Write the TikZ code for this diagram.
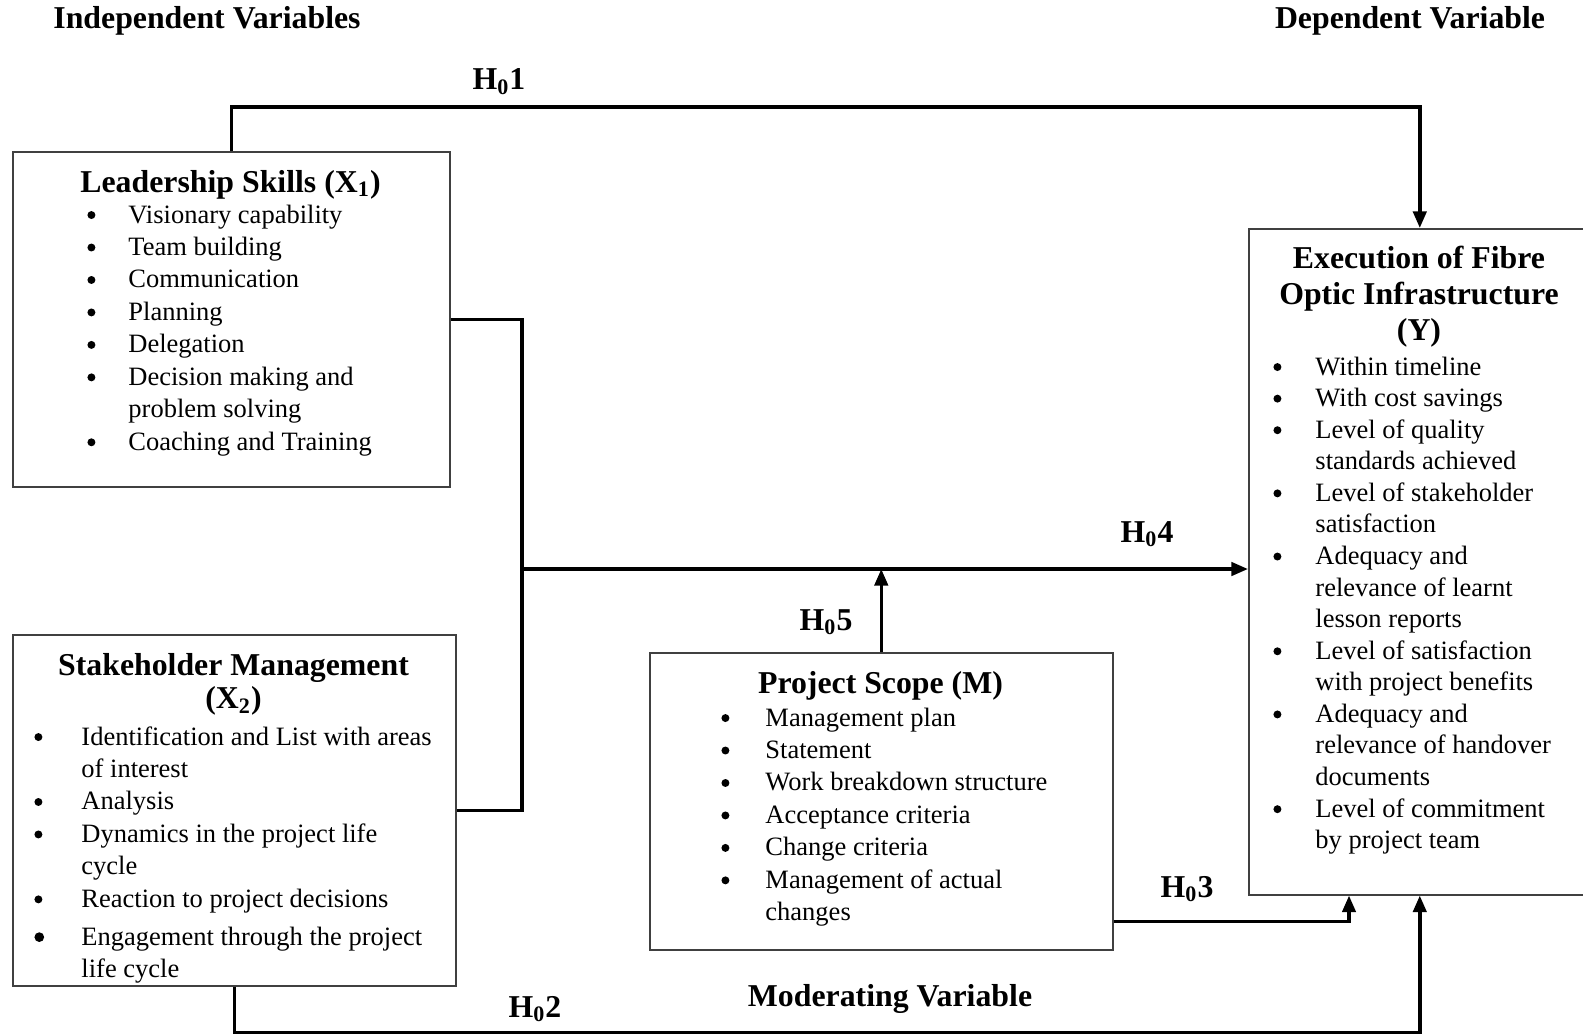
\documentclass[tikz,border=0pt]{standalone}
\usepackage{fontspec}
\setmainfont{Liberation Serif}
\usetikzlibrary{arrows.meta,positioning}
\newlength{\px}
\setlength{\px}{0.4528pt}
\newcommand{\bul}{\raisebox{1.8pt}{\tikz\fill (0,0) circle (1.8pt);}}
\newcommand{\bigbul}{\raisebox{1.5pt}{\tikz\fill (0,0) circle (2.2pt);}}
\begin{document}
\begin{tikzpicture}[x=\px, y=-\px,
  varbox/.style={draw=black!75, line width=0.7pt, anchor=north west, inner sep=0pt},
  boxtitle/.style={anchor=base, inner sep=0pt, font=\fontsize{14.4}{15.8}\selectfont\bfseries},
  itemlist/.style={anchor=base west, inner sep=0pt, font=\fontsize{12}{14.7}\selectfont},
  hlabel/.style={anchor=base, inner sep=0pt, font=\fontsize{14.4}{16}\selectfont\bfseries},
  link/.style={line width=1.6pt},
  arrow/.style={link, -{Triangle[length=7.5pt,width=6pt]}}]
\useasboundingbox (0,0) rectangle (1583,1034);

% the four boxes
\node[varbox, minimum width=437*\px, minimum height=335*\px] (lead) at (12,151) {};
\node[varbox, minimum width=443*\px, minimum height=351*\px] (stake) at (12,634) {};
\node[varbox, minimum width=463*\px, minimum height=297*\px] (scope) at (649,652) {};
\node[varbox, minimum width=342*\px, minimum height=666*\px] (exec) at (1248,228) {};

% titles
\node[boxtitle] (lead-t) at (230.5,192) {Leadership Skills (X\textsubscript{1})};
\node[boxtitle, font=\fontsize{14.4}{15.1}\selectfont\bfseries] (stake-t) at (233.5,675)
  {\begin{tabular}[t]{@{}c@{}}Stakeholder Management\\(X\textsubscript{2})\end{tabular}};
\node[boxtitle] (scope-t) at (880.5,693) {Project Scope (M)};
\node[boxtitle, font=\fontsize{14.4}{16.4}\selectfont\bfseries] (exec-t) at (1419,268)
  {\begin{tabular}[t]{@{}c@{}}Execution of Fibre\\Optic Infrastructure\\(Y)\end{tabular}};

% lists
\node[itemlist] (lead-l) at (87,223) {\begin{tabular}[t]{@{}p{41\px}@{}l@{}}
\bul & Visionary capability\\
\bul & Team building\\
\bul & Communication\\
\bul & Planning\\
\bul & Delegation\\
\bul & Decision making and\\
     & problem solving\\
\bul & Coaching and Training
\end{tabular}};
\node[itemlist] (stake-l) at (34,745) {\begin{tabular}[t]{@{}p{47\px}@{}l@{}}
\bul & Identification and List with areas\\
     & of interest\\
\bul & Analysis\\
\bul & Dynamics in the project life\\
     & cycle\\
\bul & Reaction to project decisions\\[2.5pt]
\bigbul & Engagement through the project\\
     & life cycle
\end{tabular}};
\node[itemlist] (scope-l) at (721,726) {\begin{tabular}[t]{@{}p{44\px}@{}l@{}}
\bul & Management plan\\
\bul & Statement\\
\bul & Work breakdown structure\\
\bul & Acceptance criteria\\
\bul & Change criteria\\
\bul & Management of actual\\
     & changes
\end{tabular}};
\node[itemlist, font=\fontsize{12}{14.3}\selectfont] (exec-l) at (1273,375) {\begin{tabular}[t]{@{}p{42\px}@{}l@{}}
\bul & Within timeline\\
\bul & With cost savings\\
\bul & Level of quality\\
     & standards achieved\\
\bul & Level of stakeholder\\
     & satisfaction\\
\bul & Adequacy and\\
     & relevance of learnt\\
     & lesson reports\\
\bul & Level of satisfaction\\
     & with project benefits\\
\bul & Adequacy and\\
     & relevance of handover\\
     & documents\\
\bul & Level of commitment\\
     & by project team
\end{tabular}};

% headings and hypotheses
\node[hlabel] (iv) at (207,29) {Independent Variables};
\node[hlabel] (dv) at (1410,29) {Dependent Variable};
\node[hlabel] (mv) at (890,1006) {Moderating Variable};
\node[hlabel] (h1) at (499,90) {H\textsubscript{0}1};
\node[hlabel] (h2) at (535,1017) {H\textsubscript{0}2};
\node[hlabel] (h3) at (1187,897) {H\textsubscript{0}3};
\node[hlabel] (h4) at (1147,542) {H\textsubscript{0}4};
\node[hlabel] (h5) at (826,630) {H\textsubscript{0}5};

% connectors
\coordinate (jn) at (522,569);
\draw[arrow] (lead.north) -- ++(0,-44) -| (exec.north);
\draw[link] (lead.east) -| (jn) |- (stake.east);
\draw[arrow] (jn) -- (jn -| exec.west);
\draw[arrow] (scope.north) -- (scope.north |- jn);
\draw[arrow] ([yshift=29*\px]scope.south east) -| ([xshift=101*\px]exec.south west);
\draw[arrow] (stake.south) -- ++(0,46) -| (exec.south);
\end{tikzpicture}
\end{document}
